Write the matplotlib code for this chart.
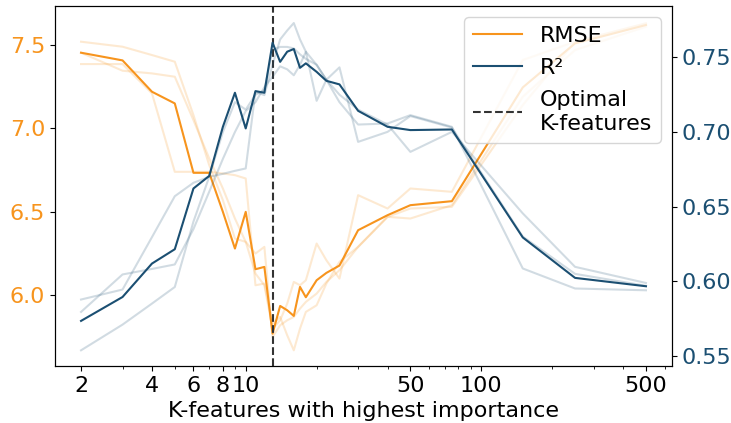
import matplotlib
matplotlib.use("Agg")
import matplotlib.pyplot as plt
from matplotlib.ticker import ScalarFormatter, NullFormatter

# K values evaluated
k_features = [2, 3, 4, 5, 6, 7, 8, 9, 10, 11, 12, 13, 14, 15, 16, 17, 18,
              20, 22, 25, 30, 40, 50, 75, 150, 250, 500]

# mean curves
rmse_mean = [7.454, 7.408, 7.220, 7.150, 6.734, 6.734, 6.50, 6.280, 6.500, 6.156,
             6.170, 5.770, 5.936, 5.91, 5.876, 6.050, 5.988, 6.09, 6.134, 6.178,
             6.39, 6.48, 6.54, 6.564, 7.246, 7.510, 7.62]
r2_mean = [0.5735, 0.5895, 0.6119, 0.6215, 0.6622, 0.6706, 0.7035, 0.7263, 0.7024,
           0.7274, 0.7263, 0.7598, 0.7470, 0.7538, 0.7556, 0.7430, 0.7460, 0.7403,
           0.7343, 0.7319, 0.7142, 0.7035, 0.7013, 0.7017, 0.6294, 0.6023, 0.5967]

# individual runs (faint)
rmse_run1 = [7.52, 7.49, 7.44, 7.40, 7.08, 6.78, 6.57, 6.34, 6.32, 6.13, 6.06, 5.80,
             5.85, 5.95, 6.08, 6.06, 6.09, 6.31, 6.21, 6.10, 6.60, 6.52, 6.64, 6.62,
             7.41, 7.52, 7.63]
rmse_run2 = [7.386, 7.386, 7.21, 6.74, 6.74, 6.74, 6.73, 6.72, 6.70, 6.06, 6.07, 5.83,
             5.87, 5.76, 5.67, 5.80, 5.90, 5.94, 6.07, 6.20, 6.29, 6.47, 6.46, 6.54,
             7.19, 7.47, 7.61]
rmse_run3 = [7.454, 7.346, 7.33, 7.31, 7.05, 6.82, 6.64, 6.46, 6.32, 6.25, 6.29, 5.75,
             5.82, 5.85, 5.87, 5.92, 5.96, 6.01, 6.08, 6.15, 6.29, 6.47, 6.52, 6.53,
             7.14, 7.52, 7.63]

r2_run1 = [0.5878, 0.5945, 0.6296, 0.657, 0.666, 0.670, 0.672, 0.674, 0.6756, 0.727,
           0.7247, 0.745, 0.762, 0.768, 0.773, 0.762, 0.7538, 0.7209, 0.735, 0.7433,
           0.6934, 0.7001, 0.7107, 0.703, 0.630, 0.605, 0.597]
r2_run2 = [0.5795, 0.6046, 0.6083, 0.6113, 0.635, 0.66, 0.682, 0.70, 0.714, 0.72,
           0.73, 0.737, 0.744, 0.742, 0.738, 0.745, 0.7538, 0.745, 0.735, 0.725,
           0.715, 0.705, 0.6867, 0.7001, 0.6455, 0.6097, 0.5989]
r2_run3 = [0.5538, 0.5710, 0.5851, 0.5962, 0.64, 0.67, 0.70, 0.72, 0.715, 0.725,
           0.728, 0.755, 0.757, 0.757, 0.756, 0.752, 0.749, 0.745, 0.735, 0.72,
           0.705, 0.7057, 0.7113, 0.7035, 0.6086, 0.5952, 0.594]

best_k = 13
xticks = [2, 4, 6, 8, 10, 50, 100, 500]

orange = "#F7941D"
blue = "#1B4F72"

plt.rcParams["font.size"] = 16

fig = plt.figure(figsize=(7.31, 4.23), dpi=100)
ax1 = fig.add_axes([0.0752, 0.1348, 0.8441, 0.851])
ax2 = ax1.twinx()

for run in (rmse_run1, rmse_run2, rmse_run3):
    ax1.plot(k_features, run, color=orange, alpha=0.2, lw=1.5)
l1, = ax1.plot(k_features, rmse_mean, color=orange, lw=1.5, label="RMSE")

for run in (r2_run1, r2_run2, r2_run3):
    ax2.plot(k_features, run, color=blue, alpha=0.2, lw=1.5)
l2, = ax2.plot(k_features, r2_mean, color=blue, lw=1.5, label="R²")

l3 = ax1.axvline(best_k, color="#333333", ls="--", lw=1.5, label="Optimal\nK-features")

ax1.set_xscale("log")
ax1.set_xticks(xticks)
ax1.xaxis.set_major_formatter(ScalarFormatter())
ax1.xaxis.set_minor_formatter(NullFormatter())
ax1.set_xlim(1.55, 645)
ax1.set_ylim(5.576, 7.734)
ax2.set_ylim(0.5433, 0.7844)
ax1.set_yticks([6.0, 6.5, 7.0, 7.5])
ax2.set_yticks([0.55, 0.60, 0.65, 0.70, 0.75])

ax1.tick_params(axis="y", labelcolor=orange)
ax2.tick_params(axis="y", labelcolor=blue)
ax1.set_xlabel("K-features with highest importance")

ax1.legend(handles=[l1, l2, l3], loc="upper right", fontsize=16,
           handlelength=2.2, labelspacing=0.55)

fig.savefig("out.png", dpi=100)
